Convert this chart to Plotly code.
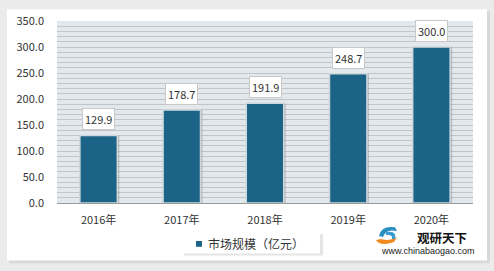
import plotly.graph_objects as go

years = ["2016年", "2017年", "2018年", "2019年", "2020年"]
values = [129.9, 178.7, 191.9, 248.7, 300.0]
series_name = "市场规模（亿元）"
ytick_vals = [0, 50, 100, 150, 200, 250, 300, 350]
ytick_text = ["0.0", "50.0", "100.0", "150.0", "200.0", "250.0", "300.0", "350.0"]

W, H = 494, 271
L, R, T, B = 57, 21, 16, 68
PW, PH = W - L - R, H - T - B

def px(x):
    return (x - L) / PW

def py(y):
    return (H - B - y) / PH

FONT = "Noto Sans CJK SC, Microsoft YaHei, sans-serif"
BAR = "#1b6488"

fig = go.Figure()
# shadow bars
fig.add_trace(go.Bar(
    x=years, y=values, width=0.46, offset=-0.21,
    marker=dict(color="rgba(0,0,0,0.16)", line=dict(width=0)),
    hoverinfo="skip", showlegend=False,
))
fig.add_trace(go.Bar(
    x=years, y=values, width=0.45, name=series_name,
    marker=dict(color=BAR, line=dict(color="#cfd7dd", width=1.5)),
    showlegend=False,
))

for yr, v in zip(years, values):
    fig.add_annotation(
        x=yr, y=v, xref="x", yref="y", text=f"{v:.1f}", showarrow=False,
        yanchor="bottom", yshift=5, bgcolor="white", bordercolor="#c8c8c8",
        borderwidth=1, borderpad=2, font=dict(family=FONT, size=11, color="#333333"),
    )

shapes = []
# card shadow and card
shapes.append(dict(type="rect", xref="paper", yref="paper",
                   x0=px(9), x1=px(490), y0=py(265), y1=py(6),
                   fillcolor="#d8d8d8", line=dict(width=0), layer="below"))
shapes.append(dict(type="rect", xref="paper", yref="paper",
                   x0=px(7), x1=px(487), y0=py(262), y1=py(4),
                   fillcolor="white", line=dict(width=0), layer="below"))
# plot area background
shapes.append(dict(type="rect", xref="paper", yref="paper",
                   x0=0, x1=1, y0=0, y1=1,
                   fillcolor="#e3e8ec", line=dict(width=0), layer="below"))
# legend box shadow + box
shapes.append(dict(type="rect", xref="paper", yref="paper",
                   x0=px(184), x1=px(323), y0=py(257), y1=py(235),
                   fillcolor="#e4e4e4", line=dict(width=0)))
shapes.append(dict(type="rect", xref="paper", yref="paper",
                   x0=px(182), x1=px(320), y0=py(255), y1=py(234),
                   fillcolor="white", line=dict(width=0)))
shapes.append(dict(type="rect", xref="paper", yref="paper",
                   x0=px(196), x1=px(202), y0=py(248), y1=py(242),
                   fillcolor=BAR, line=dict(width=0)))
# logo icon approximation
shapes.append(dict(type="path", xref="paper", yref="paper",
                   path=f"M {px(379)},{py(237)} Q {px(381)},{py(226)} {px(395)},{py(228)} "
                        f"L {px(397)},{py(232)} Q {px(386)},{py(229)} {px(383)},{py(238)} Z",
                   fillcolor="#2a8fc0", line=dict(width=0)))
shapes.append(dict(type="path", xref="paper", yref="paper",
                   path=f"M {px(376)},{py(241)} Q {px(380)},{py(248)} {px(394)},{py(243)} "
                        f"L {px(397)},{py(238)} Q {px(390)},{py(243)} {px(381)},{py(240)} Z",
                   fillcolor="#f08a1c", line=dict(width=0)))
shapes.append(dict(type="path", xref="paper", yref="paper",
                   path=f"M {px(386)},{py(233)} Q {px(397)},{py(231)} {px(395)},{py(240)} "
                        f"L {px(392)},{py(240)} Q {px(393)},{py(235)} {px(386)},{py(236)} Z",
                   fillcolor="#3a9bcf", line=dict(width=0)))

fig.add_annotation(xref="paper", yref="paper", x=px(206), y=py(245),
                   xanchor="left", yanchor="middle", text=series_name, showarrow=False,
                   font=dict(family=FONT, size=12, color="#333333"))
fig.add_annotation(xref="paper", yref="paper", x=px(442), y=py(227.5),
                   xanchor="center", yanchor="top", text="<b>观研天下</b>", showarrow=False,
                   borderpad=0,
                   font=dict(family=FONT, size=12.5, color="#111111"))
fig.add_annotation(xref="paper", yref="paper", x=px(428), y=py(246),
                   xanchor="center", yanchor="top", text="www.chinabaogao.com", showarrow=False,
                   borderpad=0,
                   font=dict(family="Liberation Sans, Arial, sans-serif", size=9, color="#222222"))

fig.update_layout(
    width=W, height=H,
    margin=dict(l=L, r=R, t=T, b=B),
    paper_bgcolor="#ebebeb", plot_bgcolor="rgba(0,0,0,0)",
    barmode="overlay", bargap=0.55,
    shapes=shapes,
    showlegend=False,
    xaxis=dict(showgrid=False, showline=True, linecolor="#9a9a9a", linewidth=1,
               ticks="", ticklabelstandoff=7,
               tickfont=dict(family=FONT, size=11, color="#333333")),
    yaxis=dict(range=[0, 350], tickvals=ytick_vals, ticktext=ytick_text,
               showgrid=True, gridcolor="#c0c5c9", gridwidth=1,
               minor=dict(dtick=10, showgrid=True, gridcolor="#c0c5c9", gridwidth=1),
               zeroline=False, showline=False, ticks="", ticklabelstandoff=12,
               tickfont=dict(family=FONT, size=11, color="#333333")),
)

fig.write_html("out.html")
